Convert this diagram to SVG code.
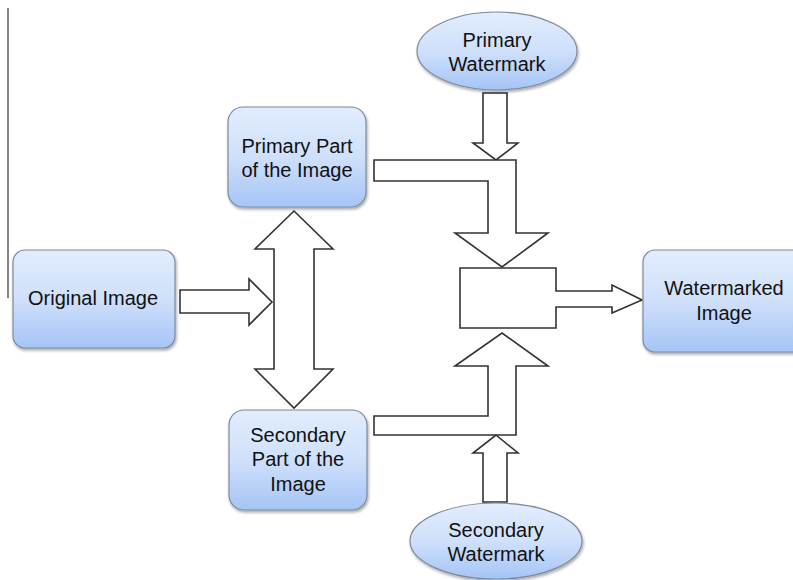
<svg xmlns="http://www.w3.org/2000/svg" width="793" height="580" viewBox="0 0 793 580">
<defs>
<linearGradient id="g" x1="0" y1="0" x2="0" y2="1">
<stop offset="0" stop-color="#e2edfd"/>
<stop offset="0.5" stop-color="#cfe0fb"/>
<stop offset="1" stop-color="#a5c4f6"/>
</linearGradient>
<filter id="sh" x="-10%" y="-10%" width="125%" height="130%">
<feGaussianBlur in="SourceAlpha" stdDeviation="1.5"/>
<feOffset dx="1" dy="2" result="b"/>
<feComponentTransfer><feFuncA type="linear" slope="0.35"/></feComponentTransfer>
<feMerge><feMergeNode/><feMergeNode in="SourceGraphic"/></feMerge>
</filter>
</defs>
<style>
.n{fill:url(#g);stroke:#7d8a9c;stroke-width:1.2;filter:url(#sh)}
.t{font-family:"Liberation Sans",Arial,sans-serif;font-size:20px;fill:#111;text-anchor:middle}
.a{fill:#fff;stroke:#333;stroke-width:1.6;stroke-linejoin:miter}
</style>
<rect width="793" height="580" fill="#fff"/>
<line x1="8" y1="8" x2="8" y2="298" stroke="#333" stroke-width="1.2"/>

<g id="connectors">
<path class="a" d="M180,290 H249 V279 L272,302 L249,325 V313 H180 Z"/>
<path class="a" d="M294,211 L333,249 H314 V369 H333 L294,408 L255,369 H274 V249 H255 Z"/>
<path class="a" d="M483,93 H507 V143 H518 L496,160 L473,143 H483 Z"/>
<path class="a" d="M374,160 H516 V233 H548 L502,267 L455,233 H488 V181 H374 Z"/>
<path class="a" d="M460,268 H556 V291 H612 V285 L642,300 L612,313 V307 H556 V328 H460 Z"/>
<path class="a" d="M502,333 L548,366 H516 V435 H374 V416 H488 V366 H455 Z"/>
<path class="a" d="M496,435 L518,453 H507 V502 H483 V453 H473 Z"/>
</g>

<g id="primary-watermark">
<ellipse class="n" cx="497" cy="51" rx="80" ry="39"/>
<text class="t" x="497" y="47">Primary</text>
<text class="t" x="497" y="71">Watermark</text>
</g>

<g id="primary-part">
<rect class="n" x="228" y="107" width="138" height="100" rx="15"/>
<text class="t" x="297" y="153">Primary Part</text>
<text class="t" x="297" y="177">of the Image</text>
</g>

<g id="original-image">
<rect class="n" x="13" y="250" width="162" height="98" rx="12"/>
<text class="t" x="93" y="305">Original Image</text>
</g>

<g id="secondary-part">
<rect class="n" x="229" y="410" width="138" height="100" rx="15"/>
<text class="t" x="298" y="442">Secondary</text>
<text class="t" x="298" y="466">Part of the</text>
<text class="t" x="298" y="491">Image</text>
</g>

<g id="watermarked-image">
<rect class="n" x="643" y="250" width="165" height="102" rx="12"/>
<text class="t" x="724" y="295">Watermarked</text>
<text class="t" x="724" y="320">Image</text>
</g>

<g id="secondary-watermark">
<ellipse class="n" cx="496" cy="541" rx="86" ry="38"/>
<text class="t" x="496" y="537">Secondary</text>
<text class="t" x="496" y="561">Watermark</text>
</g>
</svg>
